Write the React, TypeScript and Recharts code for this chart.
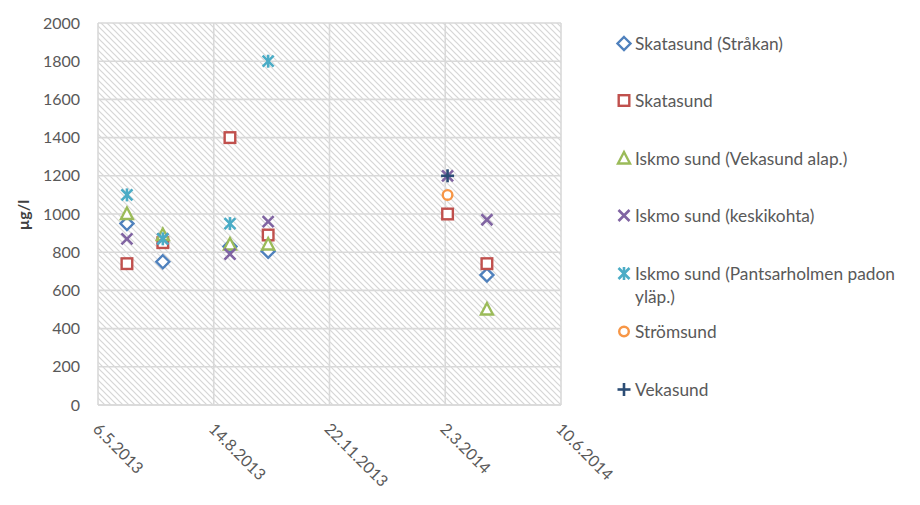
import React from 'react';
import { ScatterChart, Scatter, XAxis, YAxis, CartesianGrid, Label } from 'recharts';

// ---------- data ----------
const xTickLabels = ['6.5.2013', '14.8.2013', '22.11.2013', '2.3.2014', '10.6.2014'];
const yTicks = [0, 200, 400, 600, 800, 1000, 1200, 1400, 1600, 1800, 2000];

const strakanDates = ['31.5.2013', '1.7.2013', '28.8.2013', '30.9.2013', '7.4.2014'];
const strakanValues = [950, 750, 830, 805, 680];

const skatasundDates = ['31.5.2013', '1.7.2013', '28.8.2013', '30.9.2013', '4.3.2014', '7.4.2014'];
const skatasundValues = [740, 850, 1400, 890, 1000, 740];

const vekAlapDates = ['31.5.2013', '1.7.2013', '28.8.2013', '30.9.2013', '7.4.2014'];
const vekAlapValues = [1000, 890, 840, 840, 500];

const keskiDates = ['31.5.2013', '1.7.2013', '28.8.2013', '30.9.2013', '4.3.2014', '7.4.2014'];
const keskiValues = [870, 870, 790, 960, 1200, 970];

const pantsDates = ['31.5.2013', '1.7.2013', '28.8.2013', '30.9.2013'];
const pantsValues = [1100, 870, 950, 1800];

const stromDates = ['4.3.2014'];
const stromValues = [1100];

const vekasundDates = ['4.3.2014'];
const vekasundValues = [1200];

// ---------- helpers ----------
const dayOf = (s: string) => {
  const [d, m, y] = s.split('.').map(Number);
  return Date.UTC(y, m - 1, d) / 86400000;
};
const fmt = (n: number) => {
  const dt = new Date(n * 86400000);
  return `${dt.getUTCDate()}.${dt.getUTCMonth() + 1}.${dt.getUTCFullYear()}`;
};
const build = (dates: string[], values: number[]) =>
  dates.map((d, i) => ({ x: dayOf(d), y: values[i] }));

const xTicks = xTickLabels.map(dayOf);

type Kind = 'diamond' | 'square' | 'triangle' | 'x' | 'asterisk' | 'circle' | 'plus';

const drawMarker = (kind: Kind, cx: number, cy: number, color: string) => {
  const sw = 2.4;
  switch (kind) {
    case 'diamond':
      return <polygon points={`${cx},${cy - 6.5} ${cx + 6.5},${cy} ${cx},${cy + 6.5} ${cx - 6.5},${cy}`} fill="#fff" stroke={color} strokeWidth={sw} />;
    case 'square':
      return <rect x={cx - 5.3} y={cy - 5.3} width={10.6} height={10.6} fill="#fff" stroke={color} strokeWidth={sw} />;
    case 'triangle':
      return <polygon points={`${cx},${cy - 6.5} ${cx + 6},${cy + 5} ${cx - 6},${cy + 5}`} fill="#fff" stroke={color} strokeWidth={sw} strokeLinejoin="miter" />;
    case 'x':
      return (
        <g stroke={color} strokeWidth={2.6}>
          <line x1={cx - 5.5} y1={cy - 5.5} x2={cx + 5.5} y2={cy + 5.5} />
          <line x1={cx - 5.5} y1={cy + 5.5} x2={cx + 5.5} y2={cy - 5.5} />
        </g>
      );
    case 'asterisk':
      return (
        <g stroke={color} strokeWidth={2.6}>
          <line x1={cx - 5.5} y1={cy - 5.5} x2={cx + 5.5} y2={cy + 5.5} />
          <line x1={cx - 5.5} y1={cy + 5.5} x2={cx + 5.5} y2={cy - 5.5} />
          <line x1={cx} y1={cy - 6.5} x2={cx} y2={cy + 6.5} />
        </g>
      );
    case 'circle':
      return <circle cx={cx} cy={cy} r={4.8} fill="#fff" stroke={color} strokeWidth={sw} />;
    case 'plus':
      return (
        <g stroke={color} strokeWidth={2.6}>
          <line x1={cx - 6.5} y1={cy} x2={cx + 6.5} y2={cy} />
          <line x1={cx} y1={cy - 6.5} x2={cx} y2={cy + 6.5} />
        </g>
      );
  }
  return null;
};

const series: { name: string; color: string; kind: Kind; data: { x: number; y: number }[] }[] = [
  { name: 'Skatasund (Stråkan)', color: '#4F81BD', kind: 'diamond', data: build(strakanDates, strakanValues) },
  { name: 'Skatasund', color: '#C0504D', kind: 'square', data: build(skatasundDates, skatasundValues) },
  { name: 'Iskmo sund (Vekasund alap.)', color: '#9BBB59', kind: 'triangle', data: build(vekAlapDates, vekAlapValues) },
  { name: 'Iskmo sund (keskikohta)', color: '#8064A2', kind: 'x', data: build(keskiDates, keskiValues) },
  { name: 'Iskmo sund (Pantsarholmen padon yläp.)', color: '#4BACC6', kind: 'asterisk', data: build(pantsDates, pantsValues) },
  { name: 'Strömsund', color: '#F79646', kind: 'circle', data: build(stromDates, stromValues) },
  { name: 'Vekasund', color: '#2C4D75', kind: 'plus', data: build(vekasundDates, vekasundValues) },
];

const legendTops = [43, 100, 158, 215, 273, 331, 389];

const XTick = (props: any) => {
  const { x, payload } = props;
  return (
    <text
      transform={`translate(${x + 3},${421}) rotate(45)`}
      dy="0.8em"
      textAnchor="start"
      fontFamily="Lato, 'Noto Sans', sans-serif"
      fontSize={16}
      fill="#595959"
    >
      {fmt(payload.value)}
    </text>
  );
};

const LegendBox = () => (
  <div style={{ position: 'absolute', left: 614, top: 0, width: 306, height: 505 }}>
    {series.map((s, i) => (
      <div key={s.name} style={{ position: 'absolute', left: 0, top: legendTops[i] - 11.5, display: 'flex', alignItems: 'flex-start' }}>
        <svg width={20} height={23} style={{ flex: 'none' }}>
          {drawMarker(s.kind, 10, 11.5, s.color)}
        </svg>
        <div
          style={{
            marginLeft: 1,
            width: 272,
            fontFamily: "Lato, 'Noto Sans', sans-serif",
            fontSize: 17.3,
            lineHeight: '23px',
            color: '#595959',
            whiteSpace: 'normal',
          }}
        >
          {s.name}
        </div>
      </div>
    ))}
  </div>
);

export default function App() {
  return (
    <div style={{ position: 'absolute', left: 0, top: 0, width: 920, height: 505, background: '#fff' }}>
      <svg width={0} height={0} style={{ position: 'absolute' }}>
        <defs>
          <pattern id="hatch" patternUnits="userSpaceOnUse" width={6} height={6}>
            <rect width={6} height={6} fill="#ffffff" />
            <path d="M0,0 L6,6 M-1,5 L1,7 M5,-1 L7,1" stroke="#d6d6d6" strokeWidth={1.2} />
          </pattern>
        </defs>
      </svg>
      <ScatterChart width={920} height={505} margin={{ top: 23, right: 359, bottom: 0, left: 0 }}>
        <CartesianGrid stroke="#d9d9d9" strokeWidth={1.6} fill="url(#hatch)" fillOpacity={1} />
        <XAxis
          type="number"
          dataKey="x"
          domain={[xTicks[0], xTicks[xTicks.length - 1]]}
          ticks={xTicks}
          interval={0}
          height={100}
          axisLine={{ stroke: '#d9d9d9', strokeWidth: 1.6 }}
          tickLine={false}
          tick={<XTick />}
        />
        <YAxis
          type="number"
          dataKey="y"
          domain={[0, 2000]}
          ticks={yTicks}
          interval={0}
          width={98}
          axisLine={false}
          tickLine={false}
          tickSize={6}
          tickMargin={12}
          tick={{ fontFamily: "Lato, 'Noto Sans', sans-serif", fontSize: 16, fill: '#595959' }}
        >
          <Label
            content={() => (
              <text
                transform="translate(28.5,215) rotate(-90)"
                textAnchor="middle"
                fontFamily="Lato, 'Noto Sans', sans-serif"
                fontWeight="bold"
                fontSize={16}
                fill="#404040"
              >
                µg/l
              </text>
            )}
          />
        </YAxis>
        {series.map((s) => (
          <Scatter
            key={s.name}
            name={s.name}
            data={s.data}
            fill={s.color}
            isAnimationActive={false}
            shape={(p: any) => drawMarker(s.kind, p.cx, p.cy, s.color)}
          />
        ))}
      </ScatterChart>
      <LegendBox />
    </div>
  );
}
